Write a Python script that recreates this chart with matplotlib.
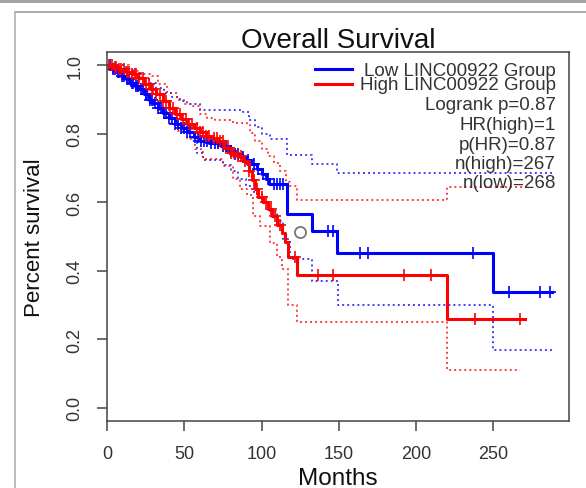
import numpy as np
import matplotlib
matplotlib.use("Agg")
import matplotlib.pyplot as plt
from matplotlib.lines import Line2D

plt.rcParams["font.family"] = ["Liberation Sans", "DejaVu Sans"]

# ---- Kaplan-Meier steps (months, survival) ----
low_t = [0, 3, 6, 9, 12, 15, 18, 21, 24, 27, 30, 33, 36, 40, 44, 48, 52, 56, 60,
         66, 74, 78, 82, 86, 90, 93, 97, 100, 103, 105, 116.5, 132.5, 149, 249.6, 287.8]
low_s = [1.0, 0.99, 0.98, 0.97, 0.96, 0.95, 0.94, 0.93, 0.915, 0.9, 0.89, 0.875, 0.862,
         0.845, 0.83, 0.818, 0.805, 0.79, 0.778, 0.772, 0.765, 0.75, 0.74, 0.733, 0.725,
         0.712, 0.697, 0.684, 0.668, 0.653, 0.567, 0.517, 0.451, 0.338, 0.338]

high_t = [0, 4, 8, 12, 16, 20, 24, 28, 32, 36, 40, 44, 48, 52, 56, 60, 64, 68, 72, 76,
          80, 84, 88, 90, 92, 94, 96, 98, 101, 104, 107, 110, 113, 115, 117, 122.7,
          220.2, 270.5]
high_s = [1.0, 0.995, 0.988, 0.982, 0.975, 0.962, 0.945, 0.93, 0.915, 0.895, 0.875,
          0.858, 0.842, 0.83, 0.818, 0.805, 0.795, 0.787, 0.778, 0.76, 0.745, 0.735,
          0.722, 0.716, 0.69, 0.665, 0.64, 0.615, 0.6, 0.58, 0.56, 0.535, 0.51, 0.485,
          0.44, 0.388, 0.26, 0.26]

# confidence bands
low_up_t = [0, 8, 12, 17, 22, 27, 32, 37, 42, 47, 52, 60, 88, 92, 96, 100, 105.5,
            116.5, 132.5, 149, 287.8]
low_up_s = [1.0, 1.0, 0.99, 0.978, 0.962, 0.948, 0.934, 0.92, 0.908, 0.897, 0.886,
            0.871, 0.865, 0.84, 0.82, 0.8, 0.784, 0.737, 0.711, 0.685, 0.685]
low_lo_t = [0, 2, 6, 10, 15, 20, 25, 30, 35, 39, 45, 51.6, 55, 58, 62, 75, 80, 85, 90,
            95, 100, 105, 110, 114, 118.4, 132.5, 149.7, 249.6, 287.8]
low_lo_s = [1.0, 0.99, 0.975, 0.962, 0.949, 0.928, 0.905, 0.885, 0.865, 0.847, 0.825,
            0.803, 0.78, 0.745, 0.725, 0.71, 0.69, 0.668, 0.648, 0.625, 0.598, 0.575,
            0.545, 0.493, 0.435, 0.371, 0.299, 0.168, 0.168]

high_up_t = [0, 8.4, 14, 20, 27.8, 33, 38.6, 45, 50, 55.9, 60.2, 64.5, 70, 81.7, 90.4,
             92.5, 96, 100, 104, 108, 112, 116, 118.4, 122.7, 220.2, 270.5]
high_up_s = [1.0, 1.0, 0.985, 0.975, 0.968, 0.945, 0.92, 0.9, 0.888, 0.881, 0.857,
             0.847, 0.84, 0.832, 0.827, 0.803, 0.78, 0.755, 0.735, 0.715, 0.69, 0.66,
             0.648, 0.607, 0.646, 0.646]
high_lo_t = [0, 4, 10.6, 15, 20, 27.8, 33, 40.8, 46, 51.6, 57, 62.3, 75.3, 81.7, 86,
             90.4, 94.7, 99, 105.5, 110, 113, 117.3, 122.7, 220.2, 267]
high_lo_s = [1.0, 0.985, 0.968, 0.95, 0.925, 0.891, 0.87, 0.832, 0.808, 0.784, 0.755,
             0.726, 0.706, 0.667, 0.64, 0.62, 0.56, 0.53, 0.48, 0.44, 0.405, 0.299,
             0.25, 0.109, 0.109]

# censored times (+ marks)
low_cens = [2, 4, 5, 7, 8, 10, 11, 13, 14, 16, 17, 19, 20, 22, 23, 25, 26, 28, 29, 31,
            33, 35, 37, 38, 40, 42, 44, 46, 48, 50, 52, 54, 57, 59, 61, 63, 65, 67, 70,
            72, 75, 77, 80, 83, 85, 88, 91, 95, 98, 101, 104, 108, 110, 112, 114,
            143.2, 146, 164, 169, 237, 260.4, 280, 287]
high_cens = [1, 3, 5, 6, 8, 9, 11, 13, 14, 16, 18, 19, 21, 23, 25, 27, 29, 30, 32, 34,
             36, 38, 41, 43, 45, 47, 49, 51, 53, 55, 58, 60, 62, 64, 66, 69, 71, 73, 75,
             78, 80, 82, 85, 87, 89, 92, 95, 97, 100, 103, 106, 109, 112, 121.6, 136.8,
             146, 192, 210, 238, 267.3]

stats_lines = ["Logrank p=0.87", "HR(high)=1", "p(HR)=0.87", "n(high)=267", "n(low)=268"]
group_names = ["Low LINC00922 Group", "High LINC00922 Group"]
stray_mark = (125, 0.513)   # grey cursor blob in the screenshot

BLUE, RED = "#0000ff", "#ff0000"
TXT = "#333333"

W, H = 586, 489
fig = plt.figure(figsize=(W / 100, H / 100), dpi=100)

# screenshot frame
fig.add_artist(plt.Rectangle((0, 1 - 4 / H), 1, 4 / H, transform=fig.transFigure,
                             color="#a3a3a3", lw=0))
fig.add_artist(Line2D([15 / W, 1], [1 - 13 / H] * 2, transform=fig.transFigure,
                      color="#9c9c9c", lw=1.2))
fig.add_artist(Line2D([15 / W] * 2, [0, 1 - 13 / H], transform=fig.transFigure,
                      color="#b0b0b0", lw=1.2))

ax = fig.add_axes([107 / W, 1 - 422.3 / H, 462 / W, 369.6 / H])


def step_at(t, s, x):
    idx = np.searchsorted(np.asarray(t), x, side="right") - 1
    return np.asarray(s)[idx]


dot = (0, (1, 1.6))
for t, s, c in [(low_up_t, low_up_s, BLUE), (low_lo_t, low_lo_s, BLUE),
                (high_up_t, high_up_s, RED), (high_lo_t, high_lo_s, RED)]:
    ax.step(t, s, where="post", color=c, lw=1.4, ls=dot, alpha=0.75)

ax.step(low_t, low_s, where="post", color=BLUE, lw=2.2)
ax.plot(low_cens, step_at(low_t, low_s, low_cens), ls="none", marker="+",
        ms=8, mew=1.2, color=BLUE)
ax.step(high_t, high_s, where="post", color=RED, lw=2.2)
ax.plot(high_cens, step_at(high_t, high_s, high_cens), ls="none", marker="+",
        ms=8, mew=1.2, color=RED)

ax.plot(*stray_mark, marker="o", ms=8, mfc="none", mec="#777777", mew=1.3)

ax.set_xlim(0, 299)
ax.set_ylim(-0.04, 1.04)
ax.set_xticks([0, 50, 100, 150, 200, 250])
ax.set_yticks([0.0, 0.2, 0.4, 0.6, 0.8, 1.0])
ax.set_yticklabels(["0.0", "0.2", "0.4", "0.6", "0.8", "1.0"])
ax.tick_params(axis="both", direction="out", length=7, width=1.1, color="#444444",
               labelcolor=TXT, labelsize=13)
ax.tick_params(axis="x", pad=10)
ax.tick_params(axis="y", pad=10)
for lab in ax.get_yticklabels():
    lab.set_rotation(90)
    lab.set_va("center")
for sp in ax.spines.values():
    sp.set_color("#444444")
    sp.set_linewidth(1.1)

# legend block
ax_x0, ax_w, ax_top, ax_h = 107, 462, 52.7, 369.6


def ax_xy(px, py):
    return (px - ax_x0) / ax_w, 1 - (py - ax_top) / ax_h


for (py, c) in [(70, BLUE), (85, RED)]:
    x0, y0 = ax_xy(315, py)
    x1, _ = ax_xy(352, py)
    ax.add_line(Line2D([x0, x1], [y0, y0], transform=ax.transAxes, color=c, lw=2.2))

baselines = [75.7, 90, 110, 130, 150, 169.3, 188.3]
for txt, py in zip(group_names + stats_lines, baselines):
    x, y = ax_xy(556, py)
    ax.text(x, y, txt, transform=ax.transAxes, ha="right", va="baseline",
            fontsize=13.5, color=TXT)

fig.text(338 / W, 1 - 48 / H, "Overall Survival", ha="center", va="baseline",
         fontsize=20, color="#111111")
fig.text(338 / W, 1 - 485 / H, "Months", ha="center", va="baseline",
         fontsize=17.5, color="#111111")
fig.text(35 / W, 1 - 237.5 / H, "Percent survival", ha="center", va="center",
         rotation=90, fontsize=16, color="#111111")

fig.savefig("out.png", dpi=100)
